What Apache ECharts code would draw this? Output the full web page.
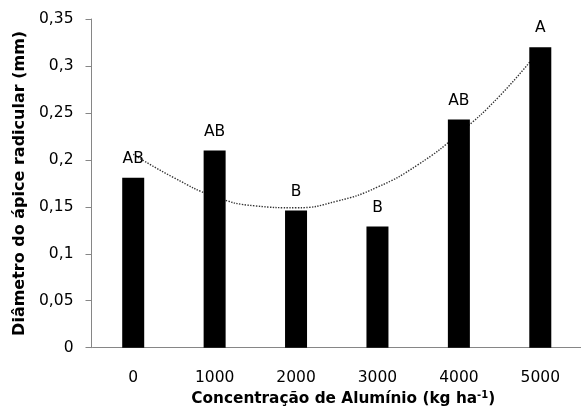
<!DOCTYPE html>
<html>
<head>
<meta charset="utf-8">
<script src="https://cdn.jsdelivr.net/npm/echarts@6/dist/echarts.min.js"></script>
<style>
html,body{margin:0;padding:0;background:#fff;}
#chart{width:581px;height:417px;}
</style>
</head>
<body>
<div id="chart"></div>
<script>
// Data
var categories = ['0', '1000', '2000', '3000', '4000', '5000'];
var barValues = [0.181, 0.210, 0.146, 0.129, 0.243, 0.320];
var barLetters = ['AB', 'AB', 'B', 'B', 'AB', 'A'];
// dotted trend line, read at half-category steps (position in category units)
var trendPos = [0, 0.5, 1, 1.5, 2, 2.5, 3, 3.5, 4, 4.5, 5];
var trendValues = [0.206, 0.181, 0.161, 0.151, 0.149, 0.156, 0.171, 0.195, 0.228, 0.268, 0.318];
var yTickLabels = ['0', '0,05', '0,1', '0,15', '0,2', '0,25', '0,3', '0,35'];

var FONT = 'DejaVu Sans';
var trendData = trendPos.map(function (x, i) { return [x, trendValues[i]]; });

var chart = echarts.init(document.getElementById('chart'), null, {renderer: 'canvas'});
chart.setOption({
  animation: false,
  backgroundColor: '#ffffff',
  grid: {left: 92.5, width: 500.4, top: 19, bottom: 69.3, containLabel: false},
  xAxis: [{
    type: 'category',
    data: categories,
    boundaryGap: true,
    axisLine: {show: true, onZero: false, lineStyle: {color: '#868686', width: 1}},
    axisTick: {show: false},
    axisLabel: {color: '#000', fontFamily: FONT, fontSize: 15.5, margin: 22},
    name: 'Concentração de Alumínio (kg ha{sup|-1})',
    nameLocation: 'middle',
    nameGap: 40,
    nameTextStyle: {
      color: '#000', fontFamily: FONT, fontSize: 15.3, fontWeight: 'bold',
      padding: [0, 0, 0, 13],
      rich: {sup: {fontFamily: FONT, fontSize: 10, fontWeight: 'bold', color: '#000', padding: [0, 0, 7, 0]}}
    },
    splitLine: {show: false}
  }, {
    type: 'value',
    min: -0.5, max: 5.5,
    show: false,
    splitLine: {show: false}
  }],
  yAxis: {
    type: 'value',
    min: 0, max: 0.35, interval: 0.05,
    offset: 1,
    axisLine: {show: true, onZero: false, lineStyle: {color: '#868686', width: 1}},
    axisTick: {show: true, length: 6, inside: false, lineStyle: {color: '#868686'}},
    axisLabel: {
      color: '#000', fontFamily: FONT, fontSize: 15.5, margin: 18,
      formatter: function (v) { return yTickLabels[Math.round(v / 0.05)]; }
    },
    splitLine: {show: false},
    name: 'Diâmetro do ápice radicular (mm)',
    nameLocation: 'middle',
    nameGap: 64,
    nameTextStyle: {color: '#000', fontFamily: FONT, fontSize: 16, fontWeight: 'bold'}
  },
  series: [
    {
      type: 'line',
      xAxisIndex: 1,
      data: trendData,
      smooth: true,
      symbol: 'none',
      z: 1,
      lineStyle: {color: '#333', width: 1.4, type: 'dotted'}
    },
    {
      type: 'bar',
      xAxisIndex: 0,
      data: barValues,
      barWidth: 22,
      z: 3,
      itemStyle: {color: '#000'},
      label: {
        show: true, position: 'top', distance: 11,
        color: '#000', fontFamily: FONT, fontSize: 15.5,
        formatter: function (p) { return barLetters[p.dataIndex]; }
      }
    }
  ]
});
</script>
</body>
</html>
